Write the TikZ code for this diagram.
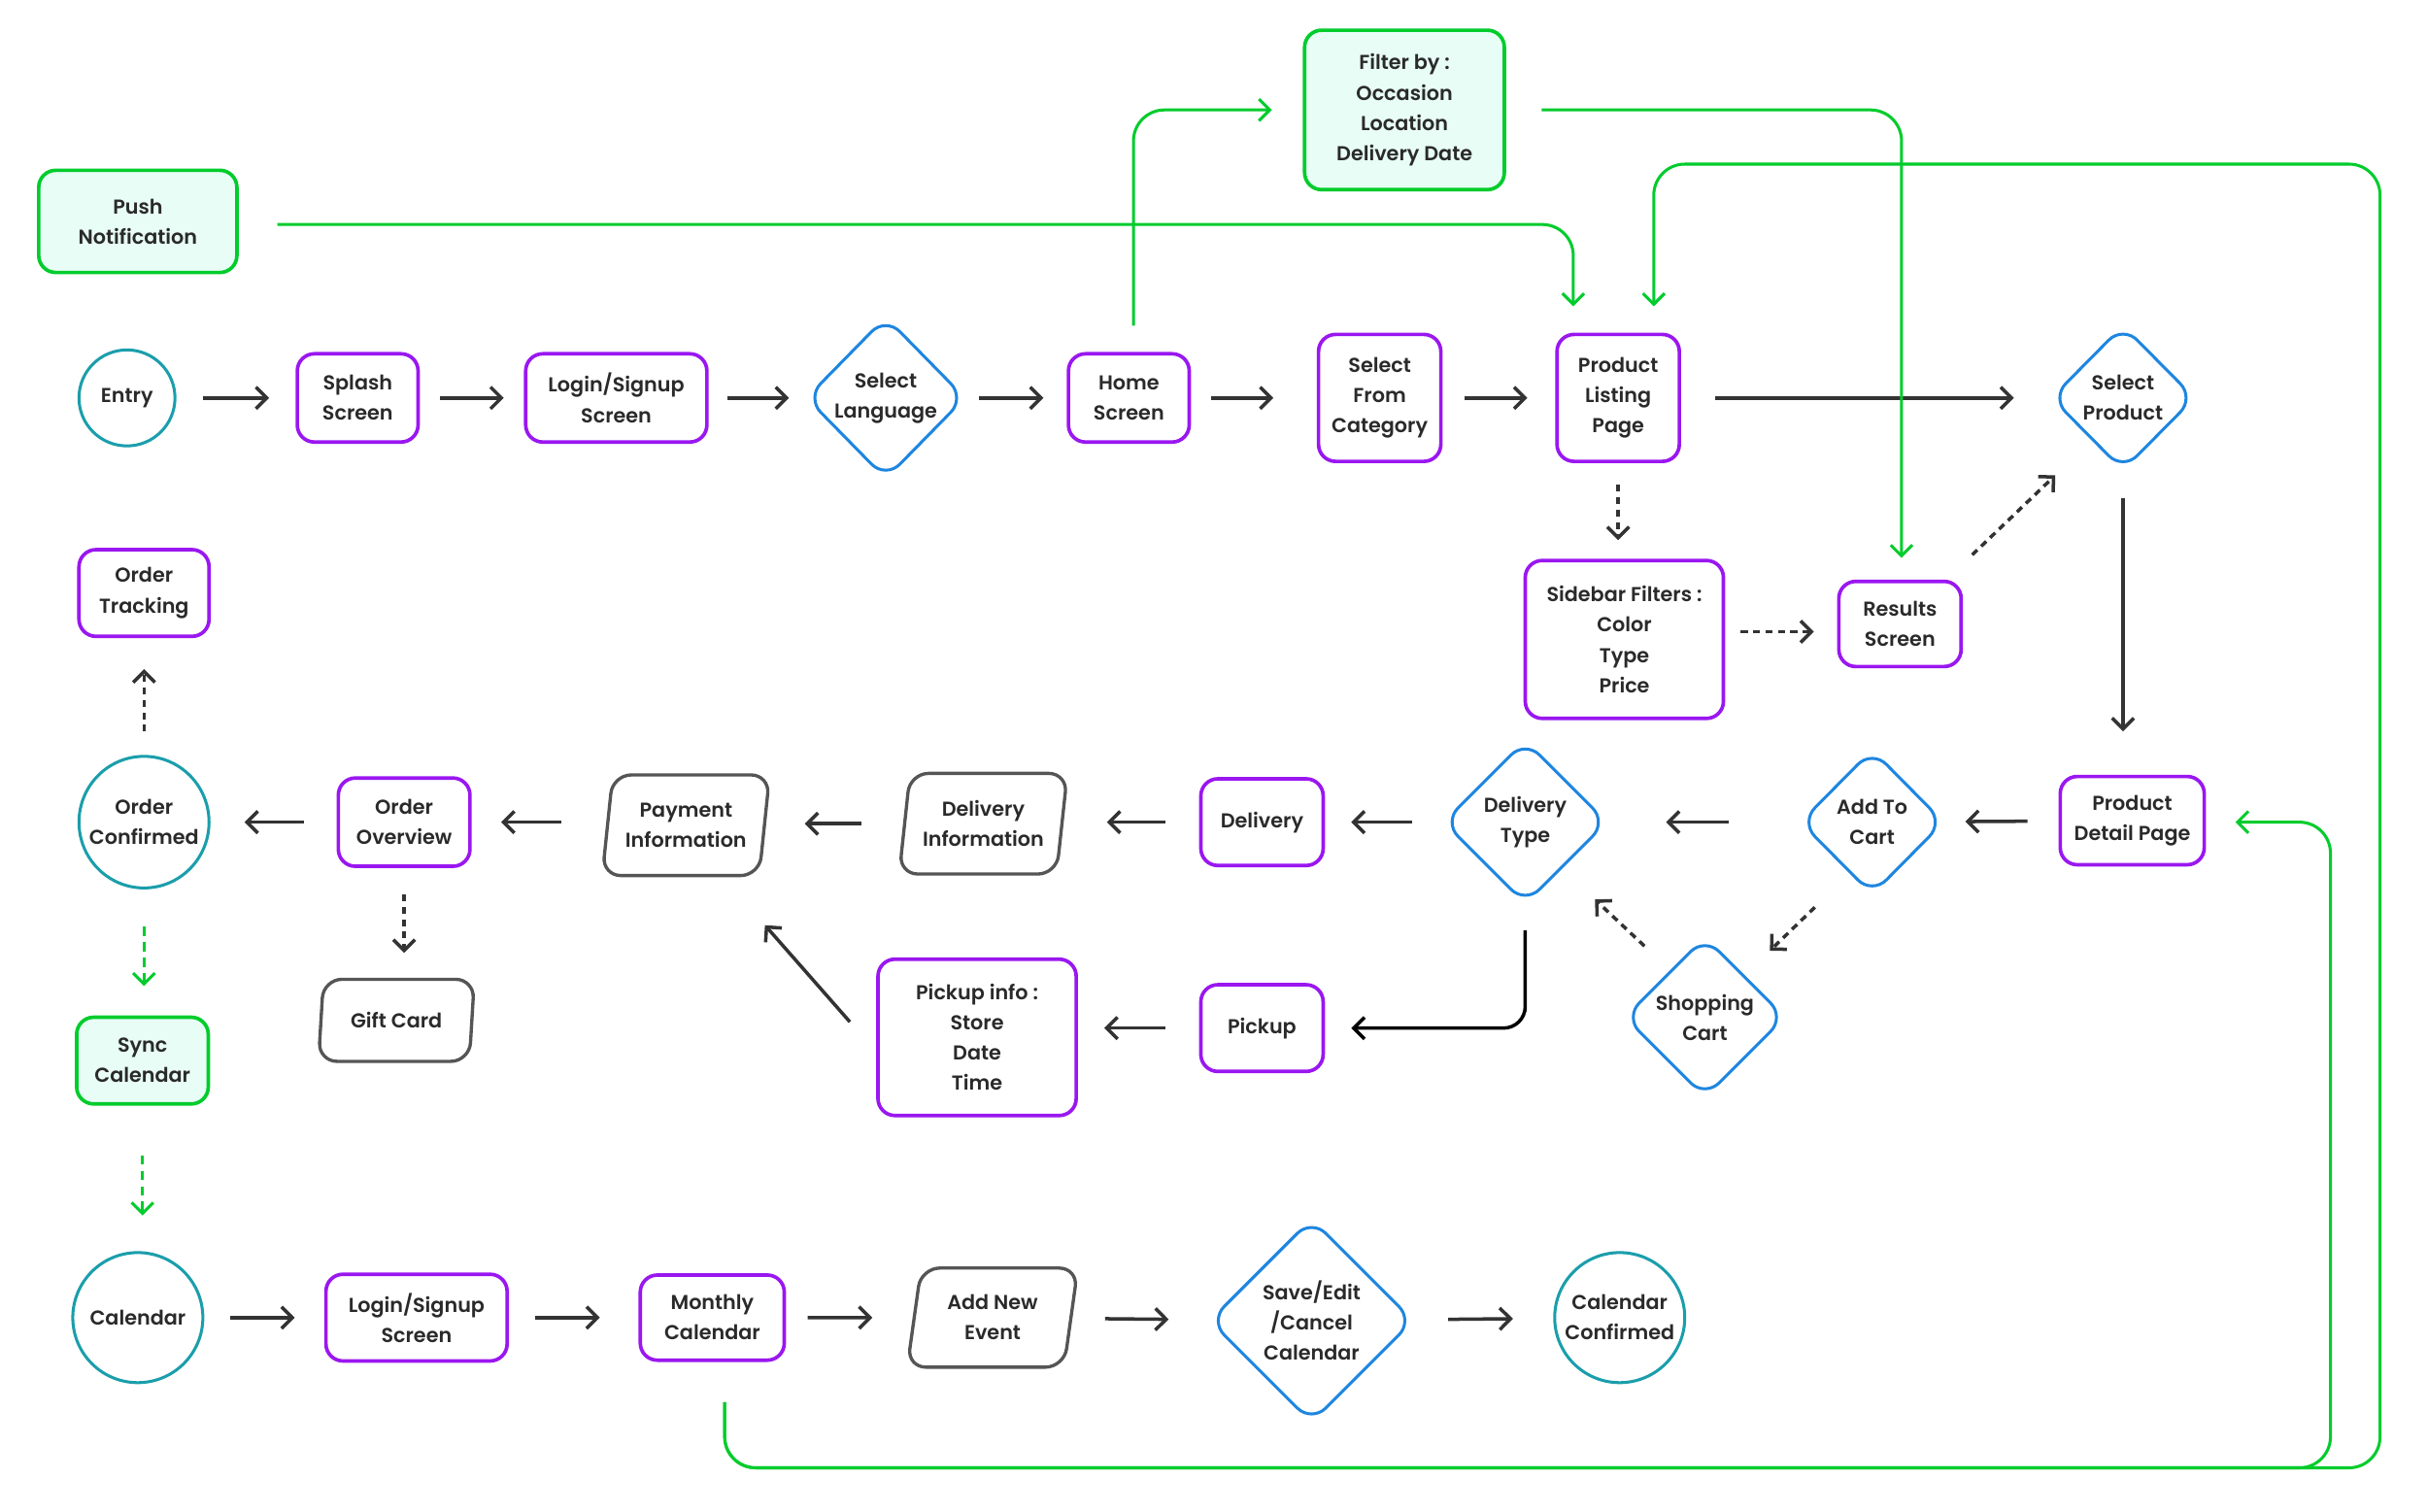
\documentclass[tikz,border=0pt]{standalone}
\usepackage{fontspec}
\setmainfont{Poppins}[UprightFont={* SemiBold}]
\usetikzlibrary{arrows.meta,shapes.geometric,calc}
\definecolor{purp}{HTML}{9A17F0}
\definecolor{blu}{HTML}{1E86E0}
\definecolor{tealc}{HTML}{1A9EAB}
\definecolor{grn}{HTML}{00CC2C}
\definecolor{mint}{HTML}{E8FDF6}
\definecolor{gry}{HTML}{555555}
\definecolor{txt}{HTML}{2A2A2A}
\definecolor{arrc}{HTML}{333333}
\begin{document}
\begin{tikzpicture}[x=1pt,y=-1pt,
  base/.style={font=\fontsize{13}{19.5}\selectfont, text=txt, align=center, line width=2.3pt},
  pbox/.style={base, rectangle, draw=purp, rounded corners=11pt, inner xsep=2pt, inner ysep=0pt},
  gbox/.style={pbox, draw=grn, fill=mint},
  dia/.style={base, diamond, draw=blu, line width=1.9pt, rounded corners=13pt, inner sep=-18pt},
  circ/.style={base, ellipse, draw=tealc, line width=1.9pt, inner sep=-10pt},
  para/.style={base, trapezium, trapezium left angle=79, trapezium right angle=101, trapezium stretches=true, draw=gry, line width=2.1pt, rounded corners=12pt, inner sep=0pt},
  arr/.style={draw=arrc, line width=2.2pt, -{Straight Barb[length=7pt,width=14pt]}},
  darr/.style={arr, dash pattern=on 4.5pt off 3.5pt},
  garr/.style={draw=grn, line width=1.9pt, -{Straight Barb[length=7pt,width=14pt]}, rounded corners=20pt},
  gdarr/.style={garr, dash pattern=on 6pt off 4pt},
  sh/.style 2 args={shorten <=#1pt, shorten >=#2pt}
]
\useasboundingbox[fill=white] (0,0) rectangle (1568,976);

% top
\node[gbox, minimum width=128, minimum height=66] (push) at (89,143) {Push\\Notification};
\node[gbox, minimum width=129, minimum height=103] (filter) at (907,71) {Filter by :\\Occasion\\Location\\Delivery Date};

% row 1
\node[circ, minimum width=62, minimum height=62] (entry) at (82,257) {Entry};
\node[pbox, minimum width=78, minimum height=57] (splash) at (231,257) {Splash\\Screen};
\node[pbox, minimum width=117, minimum height=57] (login) at (398,257) {Login/Signup\\Screen};
\node[dia, minimum width=103, minimum height=105] (lang) at (572,257) {Select\\Language};
\node[pbox, minimum width=78, minimum height=57] (home) at (729,257) {Home\\Screen};
\node[pbox, minimum width=79, minimum height=82] (cat) at (891,257) {Select\\From\\Category};
\node[pbox, minimum width=79, minimum height=82] (plp) at (1045,257) {Product\\Listing\\Page};
\node[dia, minimum width=93, minimum height=94] (selprod) at (1371,257) {Select\\Product};

% row 2
\node[pbox, minimum width=84, minimum height=56] (track) at (93,383) {Order\\Tracking};
\node[pbox, minimum width=128, minimum height=102] (sidebar) at (1049,413) {Sidebar Filters :\\Color\\Type\\Price};
\node[pbox, minimum width=79, minimum height=55] (results) at (1227,403) {Results\\Screen};

% row 3
\node[circ, minimum width=84, minimum height=85] (oconf) at (93,531) {Order\\Confirmed};
\node[pbox, minimum width=85, minimum height=57] (overview) at (261,531) {Order\\Overview};
\node[para, minimum width=109, minimum height=65] (payment) at (443,533) {Payment\\Information};
\node[para, minimum width=109, minimum height=65] (dinfo) at (635,532) {Delivery\\Information};
\node[pbox, minimum width=79, minimum height=56] (delivery) at (815,531) {Delivery};
\node[dia, minimum width=106, minimum height=106] (dtype) at (985,531) {Delivery\\Type};
\node[dia, minimum width=93, minimum height=94] (atc) at (1209,531) {Add To\\Cart};
\node[pbox, minimum width=93, minimum height=57] (pdp) at (1377,530) {Product\\Detail Page};

% row 3b
\node[para, minimum width=101, minimum height=53] (gift) at (256,659) {Gift Card};
\node[gbox, minimum width=85, minimum height=56] (sync) at (92,685) {Sync\\Calendar};
\node[pbox, minimum width=128, minimum height=101] (pinfo) at (631,670) {Pickup info :\\Store\\Date\\Time};
\node[pbox, minimum width=79, minimum height=56] (pickup) at (815,664) {Pickup};
\node[dia, minimum width=104, minimum height=104] (shop) at (1101,657) {Shopping\\Cart};

% row 4
\node[circ, minimum width=84, minimum height=84] (cal) at (89,851) {Calendar};
\node[pbox, minimum width=117, minimum height=56] (login2) at (269,851) {Login/Signup\\Screen};
\node[pbox, minimum width=93, minimum height=55] (monthly) at (460,851) {Monthly\\Calendar};
\node[para, minimum width=111, minimum height=64] (addnew) at (641,851) {Add New\\Event};
\node[dia, minimum width=132, minimum height=132] (save) at (847,853) {Save/Edit\\/Cancel\\Calendar};
\node[circ, minimum width=84, minimum height=84] (calconf) at (1046,851) {Calendar\\Confirmed};

% row 1 arrows
\draw[arr, sh={17}{17}] (entry) -- (splash);
\draw[arr, sh={13}{13}] (splash) -- (login);
\draw[arr, sh={12}{10}] (login) -- (lang);
\draw[arr, sh={8}{15}] (lang) -- (home);
\draw[arr, sh={13}{28}] (home) -- (cat);
\draw[arr, sh={14}{18}] (cat) -- (plp);
\draw[arr, sh={22}{23}] (plp) -- (selprod);

% row 2 connectors
\draw[darr, sh={14}{12}] (plp.south) -- (plp.south |- sidebar.north);
\draw[darr, sh={10}{15}] ($(sidebar.east)+(0,-5)$) -- ($(sidebar.east -| results.west)+(0,-5)$);
\draw[darr] ($(results.north east)+(6,-16)$) -- ($(selprod.south west)+(-20,26)$);
\draw[arr, sh={17}{28}] (selprod.south) -- (selprod.south |- pdp.north);

% row 3 arrows
\draw[arr, sh={20}{13}] (pdp) -- (atc);
\draw[arr, sh={45}{37}] (atc) -- (dtype);
\draw[arr, sh={19}{17}] (dtype) -- (delivery);
\draw[arr, sh={22}{28}] (delivery.west) -- (delivery.west -| dinfo.east);
\draw[arr, sh={27}{25}] (dinfo.west) -- (dinfo.west -| payment.east);
\draw[arr, sh={29}{19}] (payment.west |- overview.east) -- (overview.east);
\draw[arr, sh={21}{22}] (overview) -- (oconf);
\draw[darr, sh={15}{20}] (oconf) -- (track);
\draw[darr, sh={17}{16}] (overview.south) -- (overview.south |- gift.north);
\draw[gdarr, sh={24}{19}] (oconf.south) -- (oconf.south |- sync.north);
\draw[gdarr, sh={32}{23}] (sync.south) -- (sync.south |- cal.north);

\draw[darr] ($(atc.south)+(-37,7)$) -- ($(shop.north)+(42,10)$);
\draw[darr] ($(shop.north)+(-39,7)$) -- ($(dtype.south)+(45,-4)$);
\draw[arr, draw=black, rounded corners=14pt] ($(dtype.south)+(0,16)$) |- ($(pickup.east)+(17,0)$);
\draw[arr, sh={22}{17}] (pickup.west) -- (pickup.west -| pinfo.east);
\draw[arr] ($(pinfo.west)+(-17,-10)$) -- ($(payment.south)+(51,31)$);

% row 4 arrows
\draw[arr, sh={17}{19}] (cal) -- (login2);
\draw[arr, sh={17}{25}] (login2) -- (monthly);
\draw[arr, sh={14}{26}] (monthly) -- (addnew);
\draw[arr, sh={21}{26}] (addnew) -- (save);
\draw[arr, sh={22}{26}] (save) -- (calconf);

% green connectors
\draw[garr] ($(push.east)+(25,2)$) -| ($(plp.north)+(-29,-17)$);
\draw[garr] ($(home.north)+(3,-17)$) |- ($(filter.west)+(-20,0)$);
\draw[garr] ($(filter.east)+(23,0)$) -| ($(results.north)+(1,-14)$);
\coordinate (gb) at (1505,948);
\coordinate (gc) at (1537,948);
\coordinate (gt) at (1537,106);
\draw[garr] ($(monthly.south)+(8,26)$) |- (gb) |- ($(pdp.east)+(19,1)$);
\draw[garr] ($(monthly.south)+(8,26)$) |- (gc) -- (gt) -| ($(plp.north)+(23,-17)$);
\end{tikzpicture}
\end{document}
